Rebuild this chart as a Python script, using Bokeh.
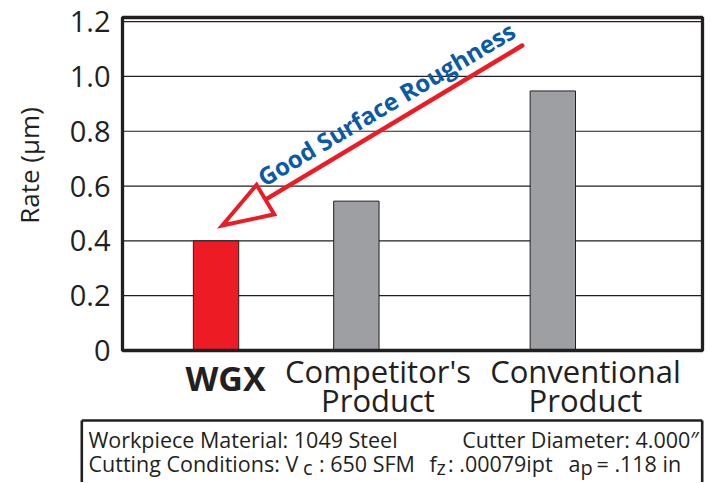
import math
from bokeh.plotting import figure
from bokeh.models import Range1d, FixedTicker, PrintfTickFormatter, LinearAxis, ColumnDataSource
from bokeh.core.properties import value
from bokeh.embed import file_html
from bokeh.resources import INLINE

# ---------------- data ----------------
categories = ["WGX", "Competitor's Product", "Conventional Product"]
values = [0.40, 0.545, 0.947]
bar_colors = ["#ed1c24", "#9d9fa2", "#9d9fa2"]
y_ticks = [0, 0.2, 0.4, 0.6, 0.8, 1.0, 1.2]
y_title = "Rate (µm)"
arrow_text = "Good Surface Roughness"
info_line1_left = "Workpiece Material: 1049 Steel"
info_line1_right = "Cutter Diameter: 4.000″"

# ---------------- layout constants (canvas px) ----------------
DARK = "#231f20"
RED = "#ed1c24"
FONT = "Open Sans"
W, H = 710, 482
X_END, Y_END = 6.2, 1.215
FR_L, FR_R, FR_T, FR_B = 122, 702, 17, 350   # chart box in canvas pixels
bar_x = [1.0, 2.5, 4.6]                      # slot positions of the three bars


def px2x(px):
    return (px - FR_L) * X_END / (FR_R - FR_L)


def px2y(py):
    return (FR_B - py) * Y_END / (FR_B - FR_T)


def mid(baseline, size):
    # visual middle of capitals sitting on a given baseline
    return baseline - 0.357 * size


p = figure(width=W, height=H,
           x_range=Range1d(px2x(0), px2x(W)), y_range=Range1d(px2y(H), px2y(0)),
           output_backend="svg", toolbar_location=None,
           x_axis_location=None, y_axis_location=None, min_border=0)
p.outline_line_color = None
p.xgrid.visible = False
p.ygrid.visible = False
p.background_fill_color = "white"
p.border_fill_color = "white"

# ---- y axis (real axis, pinned at the chart box's left edge) ----
ax = LinearAxis(fixed_location=0, ticker=FixedTicker(ticks=y_ticks),
                formatter=PrintfTickFormatter(format="%.1f"))
ax.major_label_overrides = {0: "0"}
ax.major_label_text_font = FONT
ax.major_label_text_font_size = "29px"
ax.major_label_text_color = DARK
ax.axis_line_color = None
ax.major_tick_line_color = None
ax.minor_tick_line_color = None
ax.major_tick_out = 0
ax.major_tick_in = 0
ax.major_label_standoff = 12
p.add_layout(ax, "left")

# ---- grid lines at the ticks ----
p.segment(x0=[0] * len(y_ticks), x1=[X_END] * len(y_ticks), y0=y_ticks, y1=y_ticks,
          line_color=DARK, line_width=1.2)

# ---- bars ----
src = ColumnDataSource(dict(x=bar_x, top=values, color=bar_colors, cat=categories))
p.vbar(x="x", top="top", width=0.485, bottom=0, source=src,
       fill_color="color", line_color=DARK, line_width=1)

# ---- chart box ----
p.quad(left=[0], right=[X_END], bottom=[0], top=[Y_END], fill_color=None,
       line_color=DARK, line_width=3.3)

# ---- arrow (shaft + hollow head) ----
start = (521.7, 45.0)
tip = (221.7, 225.0)
head_len, head_w = 50.4, 34.4
dx, dy = tip[0] - start[0], tip[1] - start[1]
dist = math.hypot(dx, dy)
ux, uy = dx / dist, dy / dist
base = (tip[0] - ux * head_len, tip[1] - uy * head_len)
nx, ny = -uy, ux
c1 = (base[0] + nx * head_w / 2, base[1] + ny * head_w / 2)
c2 = (base[0] - nx * head_w / 2, base[1] - ny * head_w / 2)
p.line(x=[px2x(start[0]), px2x(base[0])], y=[px2y(start[1]), px2y(base[1])],
       line_color=RED, line_width=4.5, line_cap="round")
p.patch(x=[px2x(tip[0]), px2x(c1[0]), px2x(c2[0])], y=[px2y(tip[1]), px2y(c1[1]), px2y(c2[1])],
        fill_color="white", line_color=RED, line_width=4, line_join="miter")

ang = 30.8
asz = 24
ox = -math.sin(math.radians(ang)) * 0.357 * asz
oy = -math.cos(math.radians(ang)) * 0.357 * asz
p.text(x=[px2x(390 + ox)], y=[px2y(110.5 + oy)], text=[arrow_text], angle=ang, angle_units="deg",
       text_align="center", text_baseline="middle", text_font=value(FONT),
       text_font_style="bold", text_font_size=value(f"{asz}px"), text_color="#0a5aa8")

# ---- axis title ----
p.text(x=[px2x(28.3)], y=[px2y(165)], text=[y_title], angle=90, angle_units="deg",
       text_align="center", text_baseline="middle", text_font=value(FONT),
       text_font_size=value("26px"), text_color=DARK)

# ---- category labels ----
p.text(x=[px2x(225)], y=[px2y(mid(390, 34))], text=[categories[0]], text_align="center",
       text_baseline="middle", text_font=value(FONT), text_font_style="bold",
       text_font_size=value("34px"), text_color=DARK)
for cat, cx in zip(categories[1:], [377.5, 585]):
    first, second = cat.split(" ")
    p.text(x=[px2x(cx), px2x(cx)], y=[px2y(mid(381.5, 31)), px2y(mid(411, 31))],
           text=[first, second], text_align="center", text_baseline="middle",
           text_font=value(FONT), text_font_size=value("31px"), text_color=DARK)

# ---------------- info box ----------------
bl, br, bt, bb = 81.3, 701.7, 420, 500
p.multi_line(xs=[[px2x(bl), px2x(bl)], [px2x(bl), px2x(br)], [px2x(br), px2x(br)]],
             ys=[[px2y(bb), px2y(bt)], [px2y(bt), px2y(bt)], [px2y(bt), px2y(bb)]],
             line_color=DARK, line_width=2.6)

FS, SFS = 21.5, 20
L1, L2, SUB = 446.5, 471.0, 474.5
main_parts = [
    (88, L1, info_line1_left, "left"),
    (698.5, L1, info_line1_right, "right"),
    (88, L2, "Cutting Conditions:", "left"),
    (285, L2, "V", "left"),
    (318.5, L2, ": 650 SFM", "left"),
    (429, L2, "f", "left"),
    (447.5, L2, ": .00079ipt", "left"),
    (568, L2, "a", "left"),
    (596, L2, "= .118 in", "left"),
]
sub_parts = [(302.5, "c"), (436, "z"), (580, "p")]
for xx, yy, tt, al in main_parts:
    p.text(x=[px2x(xx)], y=[px2y(mid(yy, FS))], text=[tt], text_align=al, text_baseline="middle",
           text_font=value(FONT), text_font_size=value(f"{FS}px"), text_color=DARK)
for xx, tt in sub_parts:
    p.text(x=[px2x(xx)], y=[px2y(mid(SUB, SFS))], text=[tt], text_align="left",
           text_baseline="middle", text_font=value(FONT), text_font_size=value(f"{SFS}px"),
           text_color=DARK)

open("out.html", "w").write(file_html(p, INLINE))
